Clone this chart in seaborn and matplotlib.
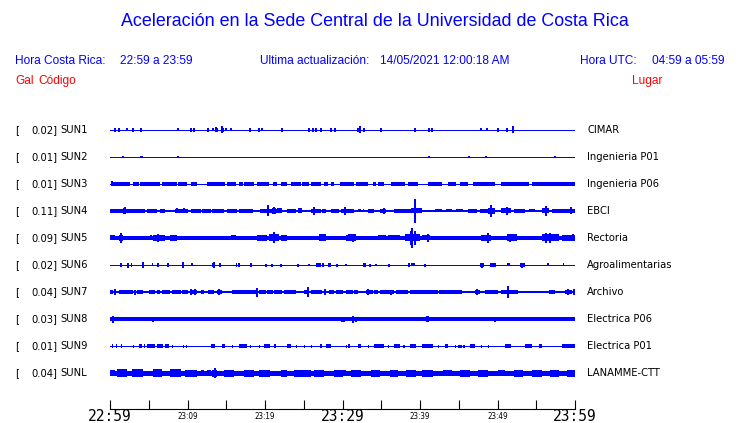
import numpy as np
import pandas as pd
import matplotlib
matplotlib.use("Agg")
import matplotlib.pyplot as plt
import seaborn as sns

# ---- data ----
# amplitudes are half-heights in screen pixels, times are minutes after 22:59
codes = ["SUN1", "SUN2", "SUN3", "SUN4", "SUN5", "SUN6", "SUN7", "SUN8", "SUN9", "SUNL"]
gains = ["0.02", "0.01", "0.01", "0.11", "0.09", "0.02", "0.04", "0.03", "0.01", "0.04"]
places = ["CIMAR", "Ingenieria P01", "Ingenieria P06", "EBCI", "Rectoria",
          "Agroalimentarias", "Archivo", "Electrica P06", "Electrica P01", "LANAMME-CTT"]
base_half = [0.5, 0.5, 0.5, 1.0, 2.0, 0.5, 1.0, 2.0, 0.5, 2.5]

major_ticks = [0, 30, 60]
major_labels = ["22:59", "23:29", "23:59"]
minor_ticks = [5, 10, 15, 20, 25, 35, 40, 45, 50, 55]
minor_labels = ["", "23:09", "", "23:19", "", "", "23:39", "", "23:49", ""]

sun1_bursts = [(13.6, 13.9, 2)]
sun1_spikes = [(0.65, 2), (1.17, 2), (2.2, 1.5), (2.98, 2), (4.02, 2), (8.8, 1.5), (10.5, 2),
               (10.9, 2), (12.6, 2), (12.7, 2), (13.3, 1.5), (13.7, 2.5), (14.5, 3.5), (14.6, 2),
               (15.0, 1.5), (15.6, 1.5), (18.0, 2), (19.2, 2), (19.6, 1.5), (22.2, 2), (25.7, 2),
               (26.2, 2), (26.6, 2), (27.2, 2), (28.5, 2), (29.0, 2), (32.0, 2), (32.3, 3.5),
               (32.8, 2), (35.0, 2), (39.4, 2), (41.1, 2), (41.6, 2), (47.9, 1.5), (48.6, 1.5),
               (50.1, 2), (51.2, 2), (52.0, 3.5)]

sun2_bursts = [(3.9, 4.2, 1)]
sun2_spikes = [(1.7, 1.2), (4.0, 1.2), (8.8, 1.2), (41.1, 1.2), (46.3, 1), (48.5, 1), (57.4, 1)]

sun3_bursts = [(0.2, 2.6, 1.7), (3.0, 3.7, 1.7), (3.9, 6.5, 1.7), (6.7, 8.6, 1.7), (8.8, 9.9, 1.7),
               (10.4, 11.2, 1.7), (12.5, 14.9, 1.7), (15.1, 16.2, 1.7), (16.6, 17.1, 1.7),
               (17.3, 18.6, 1.7), (19.0, 20.5, 1.7), (21.0, 21.6, 1.7), (22.0, 22.9, 1.7),
               (23.3, 24.6, 1.7), (24.8, 25.7, 1.7), (25.9, 27.2, 1.7), (27.6, 28.1, 1.7),
               (28.5, 28.9, 1.7), (29.7, 31.5, 1.7), (31.7, 33.3, 1.7), (33.9, 34.3, 1.7),
               (34.6, 35.4, 1.7), (36.3, 38.0, 1.7), (38.4, 39.7, 1.7), (41.0, 42.8, 1.7),
               (43.6, 44.7, 1.7), (45.1, 46.2, 1.7), (46.9, 49.7, 1.7), (50.5, 54.0, 1.7),
               (54.4, 60.0, 1.7)]
sun3_spikes = [(0.3, 2.5), (12.9, 2.2), (31.0, 2.2)]

sun4_bursts = [(0, 1.7, 1.7), (1.7, 2.1, 3), (1.9, 4.5, 1.7), (4.8, 6.0, 1.7), (6.4, 7.1, 1.7),
               (8.4, 10.1, 1.7), (10.4, 11.7, 1.7), (11.9, 13.0, 1.7), (13.2, 14.7, 1.7),
               (15.1, 16.4, 1.7), (16.6, 18.4, 1.7), (19.4, 21.6, 1.7), (20.9, 21.4, 2.7),
               (21.6, 22.2, 2.5), (22.9, 24.0, 1.7), (24.2, 24.8, 2.5), (25.9, 27.2, 1.7),
               (27.4, 27.9, 1.7), (28.5, 29.6, 1.7), (29.8, 31.5, 2.2), (32.0, 32.4, 1.5),
               (32.6, 32.8, 1.5), (33.3, 34.1, 1.7), (34.8, 35.6, 2), (36.7, 38.9, 1.7),
               (38.9, 40.2, 2.5), (40.4, 40.8, 1.2), (41.9, 42.8, 1.5), (43.4, 44.1, 1.5),
               (44.7, 45.6, 1.5), (46.2, 47.3, 1.7), (47.7, 48.8, 2), (48.8, 49.7, 2.7),
               (50.5, 51.8, 2.5), (52.1, 53.6, 1.7), (54.0, 54.9, 1.5), (55.7, 56.6, 2.5),
               (57.0, 60.0, 1.7)]
sun4_spikes = [(1.9, 3.5), (8.6, 2.5), (9.5, 2.5), (20.4, 5.5), (21.2, 3.5), (26.3, 4), (30.3, 4),
               (35.4, 3), (39.3, 12), (49.2, 6), (51.2, 4), (56.2, 5), (59.5, 3.5)]

sun5_bursts = [(0, 0.65, 2.5), (1.1, 1.7, 3), (5.2, 5.4, 2.5), (5.6, 7.1, 3), (7.8, 8.6, 3),
               (11.7, 12.3, 2.3), (13.0, 14.0, 2.3), (14.3, 15.1, 2.3), (15.6, 16.2, 2.5),
               (19.0, 20.3, 3), (20.5, 21.8, 3.5), (22.0, 22.9, 3), (25.7, 26.1, 2.3),
               (27.0, 27.9, 3.5), (28.9, 29.6, 2.3), (30.5, 30.7, 3), (30.7, 31.7, 3.5),
               (34.6, 35.6, 2.5), (35.9, 37.4, 2.5), (38.0, 40.0, 3.5), (40.2, 41.3, 2.5),
               (44.3, 44.9, 2.3), (45.6, 46.2, 2.3), (47.9, 49.2, 3), (51.2, 52.5, 3.5),
               (55.7, 57.9, 3.5), (58.3, 60.0, 3)]
sun5_spikes = [(1.4, 5), (6.2, 4), (21.2, 5.5), (31.3, 4), (38.8, 7), (39.0, 10), (39.3, 7),
               (41.0, 4), (48.8, 5), (51.6, 4), (56.2, 5), (56.8, 5), (59.8, 3.5)]

sun6_bursts = [(1.3, 1.6, 1.7), (2.2, 2.4, 2), (2.7, 2.9, 1.7), (5.4, 5.5, 1.5), (6.0, 6.3, 1.7),
               (7.3, 7.6, 2), (10.5, 10.7, 1.5), (13.2, 13.6, 2), (14.1, 14.3, 1.7),
               (16.2, 16.4, 1.7), (16.5, 16.8, 1.7), (18.0, 18.3, 1.7), (26.6, 27.2, 1.7),
               (27.4, 27.6, 1.7), (28.1, 28.5, 1.7), (32.6, 33.0, 1.7), (38.4, 38.7, 1.7),
               (38.9, 39.3, 1.5), (47.7, 48.3, 1.7), (49.0, 49.8, 1.7), (51.2, 51.6, 1.5),
               (52.9, 53.5, 2), (56.4, 56.6, 1.5), (58.4, 58.6, 1.5)]
sun6_spikes = [(2.3, 2.5), (4.2, 3), (9.4, 3), (13.4, 3), (20.1, 1.5), (20.9, 1.5), (22.1, 1.5),
               (24.2, 1.5), (25.7, 1), (29.3, 1.5), (30.5, 1), (33.6, 1.5), (34.3, 1), (36.0, 1.5),
               (40.6, 1.5), (48.0, 2.5), (53.2, 2.5)]

sun7_bursts = [(0, 0.4, 1.7), (0.5, 0.8, 2.5), (1.1, 3.0, 1.7), (3.5, 4.3, 1.7), (4.5, 4.8, 1.5),
               (5.0, 5.8, 1.7), (6.0, 6.5, 1.7), (6.7, 7.8, 1.7), (7.0, 7.4, 2.5), (8.0, 9.1, 1.7),
               (9.3, 10.1, 1.7), (10.3, 11.2, 1.7), (11.7, 12.1, 1.7), (12.7, 13.4, 1.7),
               (13.8, 14.5, 1.7), (15.8, 18.8, 1.7), (19.2, 20.1, 1.7), (20.3, 21.0, 1.7),
               (21.2, 22.2, 1.7), (22.5, 24.0, 1.7), (24.2, 24.6, 1.5), (25.0, 25.7, 1.7),
               (25.9, 27.4, 1.7), (27.6, 27.9, 2.5), (28.3, 28.9, 1.7), (29.2, 30.0, 1.7),
               (30.5, 31.3, 1.7), (31.5, 32.0, 1.7), (32.4, 32.8, 1.5), (33.0, 33.9, 1.7),
               (33.1, 33.5, 2.5), (34.1, 34.6, 1.7), (34.8, 36.7, 1.7), (36.9, 38.4, 1.7),
               (38.7, 42.3, 1.7), (42.5, 45.4, 1.7), (45.8, 46.2, 1.5), (47.1, 47.7, 2.5),
               (48.4, 50.1, 1.7), (50.5, 52.7, 1.7), (54.0, 55.3, 1.5), (55.7, 56.2, 1.5),
               (56.6, 57.4, 1.7), (58.1, 58.5, 1.5), (58.7, 59.6, 1.7), (59.0, 59.3, 2.5)]
sun7_spikes = [(0.7, 3), (3.2, 2.5), (10.4, 3), (11.0, 3), (14.1, 3), (19.0, 4.5), (25.5, 5),
               (27.8, 3), (33.3, 3), (36.2, 2.5), (47.4, 3), (51.3, 5.8), (59.1, 3), (59.9, 3)]

sun8_bursts = [(33.7, 34.0, 2.3), (40.8, 41.2, 2.8), (49.5, 49.8, 2.5)]
sun8_spikes = [(0.4, 3.5), (5.5, 2.5), (14.0, 2.3), (19.5, 2.3), (20.9, 2.3), (22.9, 2.3),
               (23.1, 2.3), (27.5, 2.3), (29.9, 2.5), (30.2, 2.5), (31.0, 2), (31.3, 3.5),
               (31.8, 2.5), (32.4, 2.3), (36.1, 2.3), (46.2, 2), (48.4, 2.3), (58.7, 2.3),
               (59.4, 2.3)]

sun9_bursts = [(0.3, 0.4, 1.8), (0.8, 0.9, 1.8), (1.4, 1.6, 1.8), (3.0, 3.1, 1.5), (3.7, 4.1, 1.8),
               (4.4, 4.5, 1.8), (4.8, 5.8, 1.8), (6.1, 6.9, 1.8), (7.1, 7.6, 1.8), (8.0, 8.1, 1.5),
               (8.6, 8.7, 1.5), (9.1, 9.2, 1.5), (9.4, 9.5, 1.5), (9.8, 9.9, 1.5), (11.7, 11.8, 1.5),
               (13.0, 13.6, 1.8), (14.5, 14.9, 1.8), (15.8, 15.9, 1.5), (16.6, 17.7, 1.8),
               (18.1, 18.2, 1.5), (19.2, 19.3, 1.5), (19.9, 20.7, 1.8), (21.3, 21.4, 1.5),
               (22.9, 23.3, 1.8), (24.0, 24.1, 1.5), (25.0, 25.1, 1.5), (25.9, 26.0, 1.5),
               (27.1, 27.4, 1.8), (27.9, 28.5, 1.8), (30.5, 30.6, 1.5), (30.7, 31.0, 1.8),
               (32.0, 32.4, 1.8), (33.3, 33.4, 1.5), (34.1, 35.4, 1.7), (35.9, 36.0, 1.5),
               (36.7, 37.4, 1.7), (37.8, 38.0, 1.5), (38.7, 39.5, 1.7), (40.2, 41.7, 1.7),
               (42.3, 42.4, 1.5), (43.2, 43.6, 1.7), (44.5, 44.6, 1.5), (44.9, 45.4, 1.5),
               (45.6, 45.8, 1.5), (46.4, 47.1, 1.7), (47.9, 48.0, 1.5), (48.8, 48.9, 1.5),
               (49.5, 49.6, 1.5), (51.0, 51.8, 1.7), (53.6, 54.4, 1.7), (55.3, 55.7, 1.8),
               (56.6, 56.7, 1.5), (58.3, 60.0, 1.6)]
sun9_spikes = [(5.2, 2.2), (21.3, 2), (53.9, 2)]

sunl_bursts = [(0, 0.65, 3), (0.9, 2.2, 4), (2.8, 4.3, 4), (5.6, 6.7, 4), (7.8, 9.1, 4),
               (9.7, 11.2, 3.5), (11.7, 12.1, 3), (12.5, 13.0, 3), (13.2, 13.8, 3.5),
               (14.7, 16.0, 3.5), (17.3, 18.6, 3.5), (19.2, 20.7, 3.5), (22.0, 22.9, 3.5),
               (23.8, 25.9, 3.5), (26.3, 27.6, 3.5), (28.9, 30.0, 3.5), (29.8, 30.5, 3),
               (31.1, 32.4, 3.5), (33.7, 34.8, 3.5), (36.1, 37.2, 3.5), (38.2, 39.5, 3.5),
               (40.2, 41.7, 3.5), (43.0, 44.1, 3), (45.1, 46.4, 3.5), (47.5, 48.8, 3.5),
               (50.1, 51.0, 3), (52.1, 53.3, 3.5), (54.4, 55.7, 3.5), (56.8, 57.9, 3.5),
               (59.0, 60.0, 3.5)]
sunl_spikes = [(13.5, 5)]

all_bursts = [sun1_bursts, sun2_bursts, sun3_bursts, sun4_bursts, sun5_bursts,
              sun6_bursts, sun7_bursts, sun8_bursts, sun9_bursts, sunl_bursts]
all_spikes = [sun1_spikes, sun2_spikes, sun3_spikes, sun4_spikes, sun5_spikes,
              sun6_spikes, sun7_spikes, sun8_spikes, sun9_spikes, sunl_spikes]

# ---- figure ----
W, H = 740, 423
ROW_PX = 27.0
BLUE = "#0000ff"
sns.set_style("white")
plt.rcParams["font.family"] = ["DejaVu Sans"]

fig = plt.figure(figsize=(W / 100, H / 100), dpi=100)
fig.patch.set_facecolor("white")

def fx(px):
    return px / W

def fy(py):
    return 1 - py / H

# traces axes: rows 0..9 with 27 px spacing, first row centred at y=130
ax = fig.add_axes([fx(110), fy(386.5), 465 / W, 270 / H])
ax.set_xlim(0, 60)
ax.set_ylim(9.5, -0.5)
ax.axis("off")

# baselines via seaborn (line width in points from pixel half-heights)
base_df = pd.DataFrame({
    "t": [0.0, 60.0] * len(codes),
    "row": np.repeat(np.arange(len(codes)), 2),
    "code": np.repeat(codes, 2),
})
sizes = {c: max(2 * h, 1.0) * 0.72 for c, h in zip(codes, base_half)}
sns.lineplot(data=base_df, x="t", y="row", size="code", sizes=sizes, color=BLUE,
             estimator=None, sort=False, legend=False, ax=ax,
             antialiased=False, solid_capstyle="butt")

for i, (bursts, spikes) in enumerate(zip(all_bursts, all_spikes)):
    for t0, t1, h in bursts:
        ax.fill_between([t0, t1], i - h / ROW_PX, i + h / ROW_PX,
                        color=BLUE, lw=0, antialiased=False)
    if spikes:
        ts = [s[0] for s in spikes]
        hs = np.array([s[1] for s in spikes]) / ROW_PX
        ax.vlines(ts, i - hs, i + hs, colors=BLUE, lw=1.1, antialiased=False)

# time axis
tax = fig.add_axes([fx(110), fy(409), 465 / W, 0.001])
tax.set_xlim(0, 60)
tax.set_yticks([])
for s in ["top", "left", "right"]:
    tax.spines[s].set_visible(False)
tax.spines["bottom"].set_color("black")
tax.spines["bottom"].set_linewidth(0.8)
tax.patch.set_alpha(0)
tax.set_xticks(major_ticks)
tax.set_xticklabels(major_labels, family="DejaVu Sans Mono")
tax.set_xticks(minor_ticks, minor=True)
tax.set_xticklabels(minor_labels, minor=True)
tax.tick_params(axis="x", which="both", bottom=True, direction="in", length=6.5,
                width=0.8, colors="black")
tax.tick_params(axis="x", which="major", labelsize=10.5, pad=0)
tax.tick_params(axis="x", which="minor", labelsize=5.8, pad=2)
for lab in tax.get_xticklabels(minor=True):
    lab.set_fontstretch("condensed")

# texts
sans = "Liberation Sans"
hs_ = 8.6
fig.text(fx(375), fy(22), "Aceleración en la Sede Central de la Universidad de Costa Rica",
         ha="center", va="center", color=BLUE, fontsize=12.9, family=sans)
fig.text(fx(15), fy(61), "Hora Costa Rica:", ha="left", va="center", color=BLUE, fontsize=hs_, family=sans)
fig.text(fx(120), fy(61), "22:59 a 23:59", ha="left", va="center", color=BLUE, fontsize=hs_, family=sans)
fig.text(fx(260), fy(61), "Ultima actualización:", ha="left", va="center", color=BLUE, fontsize=hs_, family=sans)
fig.text(fx(380), fy(61), "14/05/2021 12:00:18 AM", ha="left", va="center", color=BLUE, fontsize=hs_, family=sans)
fig.text(fx(580), fy(61), "Hora UTC:", ha="left", va="center", color=BLUE, fontsize=hs_, family=sans)
fig.text(fx(725), fy(61), "04:59 a 05:59", ha="right", va="center", color=BLUE, fontsize=hs_, family=sans)
fig.text(fx(15), fy(81), "Gal", ha="left", va="center", color="red", fontsize=hs_, family=sans)
fig.text(fx(38), fy(81), "Código", ha="left", va="center", color="red", fontsize=hs_, family=sans)
fig.text(fx(662), fy(81), "Lugar", ha="right", va="center", color="red", fontsize=hs_, family=sans)

for i, (code, g, place) in enumerate(zip(codes, gains, places)):
    y = 130 + ROW_PX * i
    fig.text(fx(15), fy(y), "[", ha="left", va="center", color="black", fontsize=7.2)
    fig.text(fx(57), fy(y), g + "]", ha="right", va="center", color="black", fontsize=7.2)
    fig.text(fx(60), fy(y), code, ha="left", va="center", color="black", fontsize=7.2)
    fig.text(fx(587), fy(y), place, ha="left", va="center", color="black", fontsize=7.2)

fig.savefig("out.png", dpi=100, facecolor="white")
